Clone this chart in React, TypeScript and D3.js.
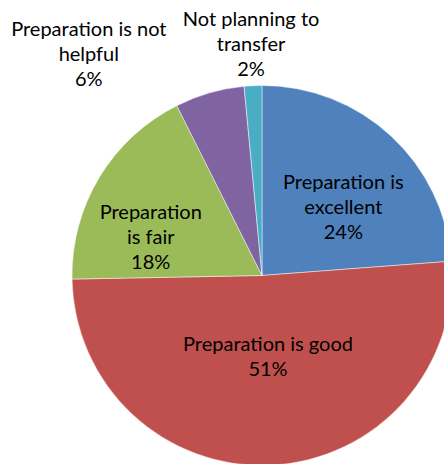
import React from "react";
import * as d3 from "d3";

const categories = [
  "Preparation is excellent",
  "Preparation is good",
  "Preparation is fair",
  "Preparation is not helpful",
  "Not planning to transfer",
];
const values = [23.8, 50.9, 17.9, 5.9, 1.5];
const labelLines = [
  ["Preparation is", "excellent"],
  ["Preparation is good"],
  ["Preparation", "is fair"],
  ["Preparation is not", "helpful"],
  ["Not planning to", "transfer"],
];
const colors = ["#4F81BD", "#C0504D", "#9BBB59", "#8064A2", "#4BACC6"];

// label placement: distance from centre (fraction of radius) and angular nudge (deg)
const labelLayout = [
  { r: 0.56, dA: 7 },
  { r: 0.43, dA: -1.5 },
  { r: 0.62, dA: -12 },
  { r: 1.48, dA: -22 },
  { r: 1.22, dA: 0 },
];

const W = 444;
const H = 464;
const cx = 262;
const cy = 275.5;
const R = 190;
const FONT = 20;
const LH = 25;

export default function App() {
  const pie = d3.pie<number>().sort(null).value((d) => d);
  const arcs = pie(values);
  const arc = d3.arc<d3.PieArcDatum<number>>().innerRadius(0).outerRadius(R);
  const total = d3.sum(values);

  return (
    <svg
      width={W}
      height={H}
      style={{ position: "absolute", left: 0, top: 0, background: "#fff" }}
      fontFamily="Lato, 'Noto Sans', sans-serif"
    >
      <g transform={`translate(${cx},${cy})`}>
        {arcs.map((a, i) => (
          <path
            key={categories[i]}
            d={arc(a) || ""}
            fill={colors[i]}
            stroke="#ffffff"
            strokeOpacity={0.6}
            strokeWidth={0.8}
          />
        ))}
        {arcs.map((a, i) => {
          const mid = (a.startAngle + a.endAngle) / 2 + (labelLayout[i].dA * Math.PI) / 180;
          const rr = labelLayout[i].r * R;
          const x = rr * Math.sin(mid);
          const y = -rr * Math.cos(mid);
          const lines = [...labelLines[i], `${Math.round((values[i] / total) * 100)}%`];
          const y0 = y - ((lines.length - 1) * LH) / 2;
          return (
            <text
              key={"l" + i}
              textAnchor="middle"
              fontSize={FONT}
              fill="#000"
            >
              {lines.map((ln, j) => (
                <tspan key={j} x={x} y={y0 + j * LH} dy="0.35em">
                  {ln}
                </tspan>
              ))}
            </text>
          );
        })}
      </g>
    </svg>
  );
}
